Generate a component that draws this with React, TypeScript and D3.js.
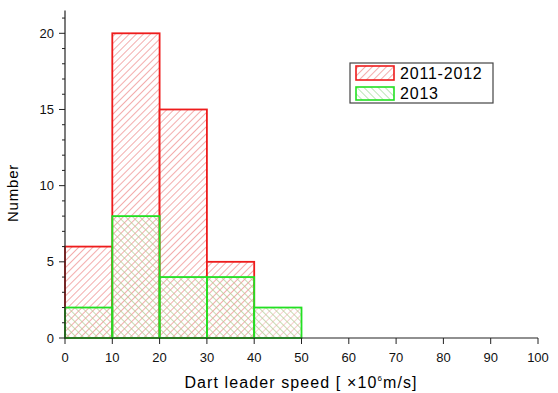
import React from "react";
import * as d3 from "d3";

const binStarts = [0, 10, 20, 30, 40];
const binWidth = 10;
const counts20112012 = [6, 20, 15, 5, 0];
const counts2013 = [2, 8, 4, 4, 2];
const xTicks = [0, 10, 20, 30, 40, 50, 60, 70, 80, 90, 100];
const yTicks = [0, 5, 10, 15, 20];
const yMinorTicks = d3.range(0, 22, 1);
const seriesNames = ["2011-2012", "2013"];

export default function App() {
  const W = 558, H = 393;
  const x = d3.scaleLinear().domain([0, 100]).range([65, 538]);
  const y = d3.scaleLinear().domain([0, 20]).range([338, 33.3]);
  const yTop = y(21.5);
  const font = "'Liberation Sans', Arial, sans-serif";

  return (
    <svg width={W} height={H} style={{ position: "absolute", left: 0, top: 0, background: "#fff" }}>
      <defs>
        <pattern id="redHatch" patternUnits="userSpaceOnUse" width="5" height="5" patternTransform="rotate(45)">
          <rect width="5" height="5" fill="#fff" />
          <line x1="0" y1="0" x2="0" y2="5" stroke="#ee8a8a" strokeWidth="1.4" />
        </pattern>
        <pattern id="greenHatch" patternUnits="userSpaceOnUse" width="5" height="5" patternTransform="rotate(-45)">
          <line x1="0" y1="0" x2="0" y2="5" stroke="#b0cc90" strokeWidth="1.4" />
        </pattern>
        <pattern id="greenHatchLegend" patternUnits="userSpaceOnUse" width="5" height="5" patternTransform="rotate(-45)">
          <rect width="5" height="5" fill="#fff" />
          <line x1="0" y1="0" x2="0" y2="5" stroke="#a0dc98" strokeWidth="1.4" />
        </pattern>
      </defs>

      {/* red bars */}
      {counts20112012.map((c, i) =>
        c > 0 ? (
          <rect key={"r" + i} x={x(binStarts[i])} y={y(c)} width={x(binStarts[i] + binWidth) - x(binStarts[i])}
            height={y(0) - y(c)} fill="url(#redHatch)" stroke="#ee1c1c" strokeWidth={1.8} />
        ) : null
      )}
      {/* green bars: hatch over red */}
      {counts2013.map((c, i) => (
        <g key={"g" + i}>
          {counts20112012[i] === 0 && c > 0 ? (
            <rect x={x(binStarts[i])} y={y(c)} width={x(binStarts[i] + binWidth) - x(binStarts[i])}
              height={y(0) - y(c)} fill="url(#redHatch)" opacity={0.6} />
          ) : null}
          <rect x={x(binStarts[i])} y={y(c)} width={x(binStarts[i] + binWidth) - x(binStarts[i])}
            height={y(0) - y(c)} fill="url(#greenHatch)" stroke="#22e022" strokeWidth={1.8} />
        </g>
      ))}

      {/* y axis */}
      <line x1={65} x2={65} y1={y(0)} y2={yTop} stroke="#222" strokeWidth={1.2} />
      {yMinorTicks.map((t) => (
        <line key={"ym" + t} x1={65} x2={t % 5 === 0 ? 59 : 62} y1={y(t)} y2={y(t)} stroke="#222" strokeWidth={1} />
      ))}
      {yTicks.map((t) => (
        <text key={"yt" + t} x={54} y={y(t) + 4.5} textAnchor="end" fontSize={13} fontFamily={font} fill="#111">{t}</text>
      ))}
      <text transform={`translate(18,${193}) rotate(-90)`} textAnchor="middle" fontSize={15} letterSpacing={0.8} fontFamily={font} fill="#000">Number</text>

      {/* x axis */}
      <line x1={65} x2={538} y1={338} y2={338} stroke="#222" strokeWidth={1.2} />
      {xTicks.map((t) => (
        <g key={"xt" + t}>
          <line x1={x(t)} x2={x(t)} y1={338} y2={344} stroke="#222" strokeWidth={1} />
          <text x={x(t)} y={362} textAnchor="middle" fontSize={13} fontFamily={font} fill="#111">{t}</text>
        </g>
      ))}
      <text x={301} y={388} textAnchor="middle" fontSize={16} letterSpacing={1.1} fontFamily={font} fill="#000">
        Dart leader speed [ ×10<tspan dy={-7} fontSize={8}>6</tspan><tspan dy={7}>m/s]</tspan>
      </text>

      {/* legend */}
      <rect x={350} y={63} width={143} height={40} fill="#fff" stroke="#444" strokeWidth={1.2} />
      <rect x={356} y={66} width={38} height={14} fill="url(#redHatch)" stroke="#ee1c1c" strokeWidth={1.6} />
      <rect x={356} y={87} width={38} height={13} fill="url(#greenHatchLegend)" stroke="#22e022" strokeWidth={1.6} />
      <text x={400} y={79} fontSize={16} letterSpacing={0.8} fontFamily={font} fill="#000">{seriesNames[0]}</text>
      <text x={400} y={99} fontSize={16} letterSpacing={0.8} fontFamily={font} fill="#000">{seriesNames[1]}</text>
    </svg>
  );
}
